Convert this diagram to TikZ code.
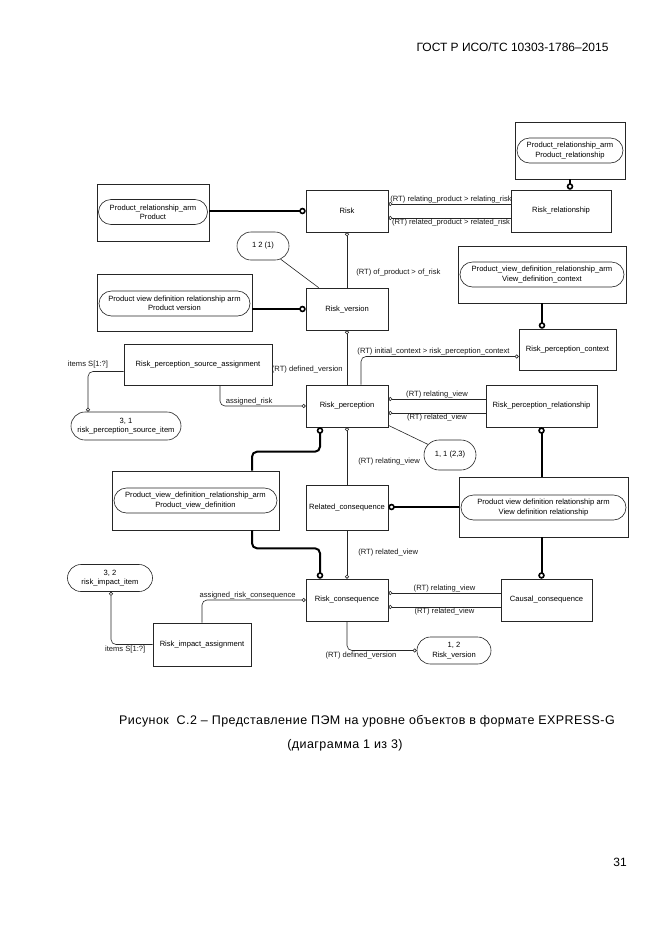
\documentclass[tikz,border=0pt]{standalone}
\usepackage{fontspec}
\setmainfont{Liberation Sans}
\newfontfamily\capfont[LetterSpace=3.5]{Liberation Sans}
\usetikzlibrary{arrows.meta,positioning,calc,shapes.misc}

\begin{document}
\begin{tikzpicture}[x=1pt,y=-1pt,
  ent/.style={draw=black!85,line width=0.6pt,minimum width=82pt,minimum height=42pt,
              inner sep=1pt,font=\fontsize{7.6}{9.4}\selectfont},
  mapout/.style={draw=black!85,line width=0.6pt,inner sep=0pt},
  mapin/.style={draw=black!85,line width=0.6pt,rounded rectangle,minimum height=25pt,
                inner sep=1pt,align=center,font=\fontsize{7.6}{9.4}\selectfont},
  sel/.style={draw=black!85,line width=0.6pt,rounded rectangle,minimum height=28pt,
              inner sep=1pt,align=center,font=\fontsize{7.6}{9.4}\selectfont},
  lbl/.style={inner sep=1pt,text=black!90,font=\fontsize{7.6}{9.4}\selectfont},
  heavy/.style={line width=2pt,-{Circle[open,length=6.5pt,width=6.5pt,line width=1.6pt]}},
  light/.style={line width=0.6pt,draw=black!85,-{Circle[open,length=4pt,width=4pt]}},
  plain/.style={line width=0.6pt,draw=black!85}]

  \fill[white] (0,0) rectangle (661,935);
  \useasboundingbox (0,0) rectangle (661,935);

  %% Page header, caption, page number
  \node[anchor=east,font=\fontsize{12}{14}\selectfont] (hdr) at (612,47) {ГОСТ Р ИСО/ТС 10303-1786–2015};
  \node[font=\capfont\fontsize{12.5}{15}\selectfont] (cap1) at (367,721)
        {Рисунок\ \ С.2 – Представление ПЭМ на уровне объектов в формате EXPRESS-G};
  \node[font=\capfont\fontsize{12.5}{15}\selectfont] (cap2) at (345,745) {(диаграмма 1 из 3)};
  \node[font=\fontsize{12}{14}\selectfont] (pg) at (620,862) {31};

  %% Entities
  \node[ent] (risk) at (347,211) {Risk};
  \node[ent,minimum width=100pt] (riskrel) at (561,211) {Risk\_relationship};
  \node[ent] (riskver) at (347,309) {Risk\_version};
  \node[ent,minimum width=97pt,minimum height=41pt] (rpctx) at (567.5,349.5) {Risk\_perception\_context};
  \node[ent,minimum width=148pt,minimum height=41pt] (rpsa) at (198,364.5) {Risk\_perception\_source\_assignment};
  \node[ent] (rp) at (347,406) {Risk\_perception};
  \node[ent,minimum width=111pt] (rprel) at (541.5,406) {Risk\_perception\_relationship};
  \node[ent,minimum height=45pt] (relcons) at (347,507.5) {Related\_consequence};
  \node[ent] (riskcons) at (347,600) {Risk\_consequence};
  \node[ent,minimum width=91pt] (causal) at (546.5,600) {Causal\_consequence};
  \node[ent,minimum width=98pt,minimum height=43pt] (ria) at (202,644.5) {Risk\_impact\_assignment};

  %% Mapped (arm) boxes
  \node[mapout,minimum width=112pt,minimum height=57pt] (prodbox) at (153,212.5) {};
  \node[mapin,minimum width=111pt] (prodin) at (153,212) {Product\_relationship\_arm\\Product};
  \node[mapout,minimum width=110pt,minimum height=57pt] (prelbox) at (570,150.5) {};
  \node[mapin,minimum width=108pt] (prelin) at (570,150.5) {Product\_relationship\_arm\\Product\_relationship};
  \node[mapout,minimum width=155pt,minimum height=57pt] (pvbox) at (174.5,302.5) {};
  \node[mapin,minimum width=153pt] (pvin) at (174.5,303.5) {Product view definition relationship arm\\Product version};
  \node[mapout,minimum width=168pt,minimum height=57pt] (vdcbox) at (542,274.5) {};
  \node[mapin,minimum width=166pt] (vdcin) at (542,274.5) {Product\_view\_definition\_relationship\_arm\\View\_definition\_context};
  \node[mapout,minimum width=167pt,minimum height=59pt] (pvdbox) at (195.5,500.5) {};
  \node[mapin,minimum width=165pt] (pvdin) at (195.5,500.5) {Product\_view\_definition\_relationship\_arm\\Product\_view\_definition};
  \node[mapout,minimum width=169pt,minimum height=60pt] (vdrbox) at (543.5,507) {};
  \node[mapin,minimum width=167pt] (vdrin) at (543.5,507.5) {Product view definition relationship arm\\View definition relationship};

  %% Page references
  \node[sel,minimum width=54pt] (ref121) at (263,246) {1 2 (1)};
  \node[sel,minimum width=112pt] (ref31) at (126,426) {3, 1\\risk\_perception\_source\_item};
  \node[sel,minimum width=54pt,minimum height=30pt] (ref11) at (450,455) {1, 1 (2,3)};
  \node[sel,minimum width=87pt,minimum height=27pt] (ref32) at (110,578) {3, 2\\risk\_impact\_item};
  \node[sel,minimum width=76pt,minimum height=27pt] (ref12) at (454,650.5) {1, 2\\Risk\_version};

  %% Heavy (subtype / mapping) lines
  \draw[heavy] (prodbox.east |- risk) -- (risk);
  \draw[heavy] (prelbox.south) -- (prelbox.south |- riskrel.north);
  \draw[heavy] (pvbox.east |- riskver) -- (riskver);
  \draw[heavy] (vdcbox.south) -- (vdcbox.south |- rpctx.north);
  \draw[heavy,rounded corners=5pt] ([xshift=56.5pt]pvdbox.north) -- ++(0,-19) -| ([xshift=-27pt]rp.south);
  \draw[heavy,rounded corners=5pt] ([xshift=56.5pt]pvdbox.south) -- ++(0,18) -| ([xshift=-27pt]riskcons.north);
  \draw[heavy] (vdrbox.west) -- (vdrbox.west -| relcons.east);
  \draw[heavy] (vdrbox.north -| rprel.south) -- (rprel.south);
  \draw[heavy] (vdrbox.south -| rprel.south) -- (rprel.south |- causal.north);

  %% Attribute lines
  \draw[light] ([yshift=7pt]riskrel.west) -- ([yshift=7pt]risk.east)
        node[lbl,midway,above,xshift=1.5pt] {(RT) relating\_product > relating\_risk};
  \draw[light] ([yshift=-7pt]riskrel.west) -- ([yshift=-7pt]risk.east)
        node[lbl,midway,below,xshift=1.5pt] {(RT) related\_product > related\_risk};
  \draw[light] (riskver.north) -- (risk.south)
        node[lbl,pos=0.28,right=8pt] {(RT) of\_product > of\_risk};
  \draw[plain] (ref121) -- ([xshift=13pt]riskver.north west);
  \draw[light] (rp.north) -- (riskver.south)
        node[lbl,pos=0.27,left=3pt] {(RT) defined\_version};
  \draw[light,rounded corners=5pt] ([xshift=14pt]rp.north) |- ([yshift=-7pt]rpctx.west)
        node[lbl,pos=0.73,above] {(RT) initial\_context > risk\_perception\_context};
  \draw[light,rounded corners=5pt] ([yshift=-7pt]rpsa.west) -| ([xshift=-38pt]ref31.north)
        node[lbl,pos=0.5,above=2pt] {items S[1:?]};
  \draw[light,rounded corners=5pt] ([xshift=22pt]rpsa.south) |- (rp.west)
        node[lbl,pos=0.67,above] {assigned\_risk};
  \draw[light] ([yshift=7pt]rprel.west) -- ([yshift=7pt]rp.east)
        node[lbl,midway,above] {(RT) relating\_view};
  \draw[light] ([yshift=-7pt]rprel.west) -- ([yshift=-7pt]rp.east)
        node[lbl,midway,below] {(RT) related\_view};
  \draw[plain] ([yshift=2pt]rp.south east) -- (ref11);
  \draw[light] (relcons.north) -- (rp.south)
        node[lbl,pos=0.4,right=10pt] {(RT) relating\_view};
  \draw[light] (relcons.south) -- (riskcons.north)
        node[lbl,pos=0.45,right=10pt] {(RT) related\_view};
  \draw[light] ([yshift=7pt]causal.west) -- ([yshift=7pt]riskcons.east)
        node[lbl,midway,above] {(RT) relating\_view};
  \draw[light] ([yshift=-7pt]causal.west) -- ([yshift=-7pt]riskcons.east)
        node[lbl,midway,below] {(RT) related\_view};
  \draw[light,rounded corners=5pt] (ria.north) |- (riskcons.west)
        node[lbl,pos=0.72,above] {assigned\_risk\_consequence};
  \draw[light,rounded corners=5pt] (ria.west) -| ([xshift=1pt]ref32.south)
        node[lbl,pos=0.33,below] {items S[1:?]};
  \draw[light,rounded corners=5pt] (riskcons.south) |- (ref12.west)
        node[lbl,pos=0.6,below] {(RT) defined\_version};
\end{tikzpicture}
\end{document}
